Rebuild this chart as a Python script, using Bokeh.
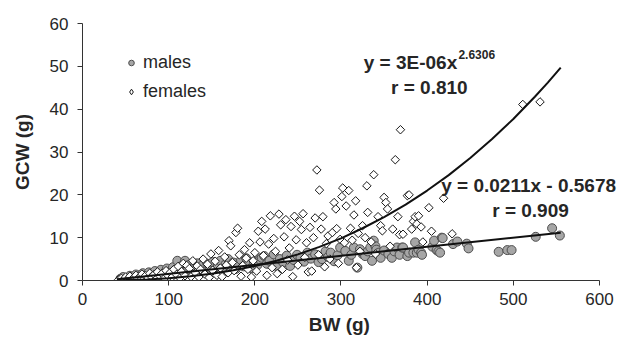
from bokeh.plotting import figure
from bokeh.models import Range1d, Label, Legend, LegendItem, FixedTicker
from bokeh.embed import file_html
from bokeh.resources import INLINE

# ---------------- data ----------------
male_bw = [44, 47, 50, 52, 55, 58, 60, 62, 65, 67, 70, 72, 74, 77, 79, 81, 84, 86, 89, 91,
           93, 96, 98, 100, 103, 105, 108, 110, 112, 115, 117, 119, 122, 124, 127, 130, 133, 136, 139, 142,
           145, 148, 151, 154, 157, 160, 163, 166, 169, 172, 175, 178, 181, 184, 187, 190, 193, 196, 199,
           203, 206, 208, 211, 214, 217, 222, 225, 229, 233, 237, 241, 245, 249, 253, 257, 261, 265, 270,
           274, 278, 282, 285, 288, 292, 296, 299,
           305, 309, 312, 315, 319, 322, 325, 328, 331, 334, 336, 338, 340, 341, 344, 346, 350, 355, 359,
           362, 365, 368, 371, 372, 377, 379, 384, 386, 388, 390, 393, 394, 406, 408, 411, 413, 415, 417,
           418, 430, 435, 446, 448, 483, 493, 498, 526, 545, 554]
male_gcw = [0.4, 0.8, 0.3, 0.6, 1.1, 0.5, 0.9, 1.4, 0.7, 1.2, 1.7, 0.9, 1.3, 1.9, 1.0, 1.5, 2.2, 1.2, 1.8, 2.5,
            1.4, 2.0, 2.8, 1.6, 2.3, 3.1, 1.9, 4.6, 2.6, 3.4, 2.0, 4.6, 2.9, 3.7, 2.3, 3.2, 4.0, 2.6, 3.5, 2.1,
            3.9, 3.0, 4.3, 2.5, 3.4, 4.6, 2.8, 3.8, 5.0, 3.1, 4.2, 2.7, 3.6, 4.8, 3.3, 5.2, 3.8, 2.9, 4.4,
            3.6, 4.9, 5.3, 5.7, 3.9, 4.6, 6.1, 3.4, 5.0, 4.2, 5.8, 3.4, 4.8, 6.0, 5.3, 4.4, 6.5, 5.1, 6.1,
            4.3, 5.0, 6.8, 5.5, 6.5, 4.5, 5.9, 7.7,
            6.9, 4.6, 6.0, 7.7, 3.0, 7.3, 6.2, 5.7, 6.8, 7.7, 4.6, 9.3, 8.0, 7.2, 6.5, 5.3, 7.0, 6.2, 5.3,
            6.8, 7.7, 6.0, 7.7, 7.7, 5.7, 6.5, 6.5, 8.9, 6.5, 7.2, 6.5, 6.0, 7.9, 9.3, 7.1, 6.8, 6.5, 10.0,
            9.9, 8.5, 9.1, 8.6, 7.5, 6.7, 7.1, 7.1, 10.2, 12.2, 10.5]

female_bw = [42, 45, 48, 50, 53, 55, 57, 60, 62, 64, 67, 69, 71, 73, 76, 78, 80, 83, 85, 87,
             90, 92, 95, 97, 99, 102, 104, 106, 109, 111, 113, 115, 117, 119, 121, 124, 126, 128, 131, 133,
             135, 137, 140, 142, 145, 147, 149, 151, 154, 156, 158, 160, 162, 165, 167, 169, 170, 172, 174, 176,
             178, 180, 182, 184, 186, 188, 190, 192, 194, 196, 198, 200,
             202, 204, 206, 208, 210, 212, 214, 216, 218, 220, 222, 224, 226, 228, 230, 232, 234, 236, 238, 240,
             242, 244, 246, 248, 250, 252, 254, 256, 258, 260,
             262, 264, 266, 268, 270, 272, 274, 275, 277, 279, 281, 283, 285, 287, 290, 292, 294, 295, 297, 299,
             301, 302, 304, 306, 309, 311, 313, 315, 317, 318, 320, 322, 325, 328, 330, 331,
             335, 338, 340, 343, 346, 348, 350, 352, 354, 357, 360, 363, 366, 368, 369, 372, 377, 379, 382, 384,
             386, 388, 390, 393, 395, 402, 405, 419, 429, 511, 531]
female_gcw = [0.2, 0.5, 0.3, 0.8, 0.4, 1.0, 0.2, 0.7, 1.2, 0.4, 0.9, 1.5, 0.3, 1.1, 0.6, 1.7, 0.9, 1.4, 0.2, 2.0,
              1.0, 1.6, 0.5, 2.3, 1.2, 1.9, 0.8, 2.6, 1.4, 3.3, 0.6, 2.1, 4.0, 1.1, 3.5, 2.8, 0.9, 4.6, 1.8, 3.4,
              0.8, 2.6, 5.0, 1.5, 3.8, 0.7, 6.2, 2.4, 4.5, 1.2, 7.0, 2.9, 0.9, 5.5, 3.6, 1.8, 9.3, 8.1, 4.2, 2.3,
              11.2, 12.2, 6.0, 1.0, 3.5, 7.2, 5.2, 2.6, 8.8, 0.8, 4.6, 6.5,
              2.2, 11.5, 9.0, 13.8, 5.8, 12.0, 1.2, 8.5, 15.1, 3.0, 9.8, 6.8, 1.6, 15.5, 13.0, 2.6, 10.2, 14.2, 4.8, 7.6,
              12.6, 0.9, 15.0, 9.5, 3.6, 13.8, 11.9, 15.6, 5.4, 8.8,
              2.0, 12.4, 2.2, 10.0, 14.6, 25.8, 6.0, 21.1, 12.0, 14.9, 3.2, 8.6, 10.4, 5.0, 11.2, 18.2, 16.7, 12.1, 4.0, 9.6,
              19.6, 21.6, 8.8, 17.4, 21.0, 12.2, 9.4, 15.3, 18.6, 3.0, 11.0, 6.8, 12.8, 10.0, 22.1, 15.9,
              9.0, 24.7, 6.2, 14.9, 12.8, 11.6, 19.4, 18.2, 16.7, 8.0, 12.0, 28.2, 14.9, 10.7, 35.2, 10.8, 19.8, 20.0, 12.0, 13.8,
              14.9, 13.2, 15.1, 12.5, 9.0, 17.0, 11.5, 19.2, 10.9, 41.1, 41.7]

# trend lines given on the chart: y = 3E-06x^2.6306 and y = 0.0211x - 0.5678
power_fit_bw = [40, 50, 75, 100, 125, 150, 175, 200, 225, 250, 275, 300, 325, 350, 375, 400,
                425, 450, 475, 500, 525, 540, 555]
power_fit_gcw = [0.049, 0.089, 0.257, 0.547, 0.98, 1.59, 2.39, 3.39, 4.63, 6.10, 7.84, 9.85, 12.2, 14.8, 17.7, 21.0,
                 24.6, 28.6, 33.0, 37.7, 42.9, 46.2, 49.7]
linear_fit_bw = [40, 555]
linear_fit_gcw = [0.28, 11.14]

x_ticks = [0, 100, 200, 300, 400, 500, 600]
y_ticks = [0, 10, 20, 30, 40, 50, 60]

FONT = "Liberation Sans"
TXT = "#262626"

p = figure(width=624, height=354, output_backend="svg", toolbar_location=None,
           x_range=Range1d(0, 626.7), y_range=Range1d(0, 60),
           min_border_left=82, min_border_right=2, min_border_top=23, min_border_bottom=74)
p.outline_line_color = None
p.grid.visible = False
p.background_fill_color = "white"
p.border_fill_color = "white"

for ax in (p.xaxis[0], p.yaxis[0]):
    ax.axis_line_color = "#333333"
    ax.major_tick_line_color = "#333333"
    ax.major_tick_out = 5
    ax.major_tick_in = 0
    ax.minor_tick_line_color = None
    ax.major_label_text_font = FONT
    ax.major_label_text_font_size = "17px"
    ax.major_label_text_color = TXT
    ax.axis_label_text_font = FONT
    ax.axis_label_text_font_style = "bold"
    ax.axis_label_text_font_size = "19px"
    ax.axis_label_text_color = TXT

p.xaxis[0].ticker = FixedTicker(ticks=x_ticks)
p.yaxis[0].ticker = FixedTicker(ticks=y_ticks)
p.xaxis[0].bounds = (0, 600)
p.xaxis[0].axis_label = "BW (g)" + "\u00a0" * 5
p.yaxis[0].axis_label = "GCW (g)"
p.xaxis[0].major_label_standoff = 7
p.yaxis[0].major_label_standoff = 9
p.xaxis[0].axis_label_standoff = 6
p.yaxis[0].axis_label_standoff = 14

r_m = p.scatter(male_bw, male_gcw, marker="circle", size=9, fill_color="#a6a6a6",
                line_color="#4d4d4d", line_width=1)
# key glyph for the legend: plain diamonds lying fully under the female markers
r_f_key = p.scatter(female_bw, female_gcw, marker="diamond", size=7, fill_color="white",
                    line_color="#1a1a1a", line_width=1)
r_f = p.scatter(female_bw, female_gcw, marker="square", angle=0.785398, size=6,
                fill_color="white", line_color="#1a1a1a", line_width=1)
p.line(power_fit_bw, power_fit_gcw, line_color="#111111", line_width=2)
p.line(linear_fit_bw, linear_fit_gcw, line_color="#111111", line_width=2)

legend = Legend(items=[LegendItem(label="males", renderers=[r_m]),
                       LegendItem(label="females", renderers=[r_f_key])],
                location=(42, 174), orientation="vertical",
                border_line_color=None, background_fill_alpha=0,
                padding=0, margin=0, spacing=0,
                glyph_width=14, glyph_height=29, label_height=29, label_standoff=5,
                label_text_font=FONT, label_text_font_size="18px", label_text_color=TXT)
p.add_layout(legend, "center")

def lab(x, y, t, size="19px", align="left"):
    p.add_layout(Label(x=x, y=y, text=t, text_font=FONT, text_font_size=size,
                       text_font_style="bold", text_color=TXT,
                       text_align=align, text_baseline="middle"))

lab(434.9, 50.9, "y = 3E-06x", align="right")
lab(436.3, 52.8, "2.6306", size="12px")
lab(358.1, 45.0, "r = 0.810")
lab(416.3, 22.15, "y = 0.0211x - 0.5678")
lab(475.5, 16.3, "r = 0.909")

open("out.html", "w").write(file_html(p, INLINE))
